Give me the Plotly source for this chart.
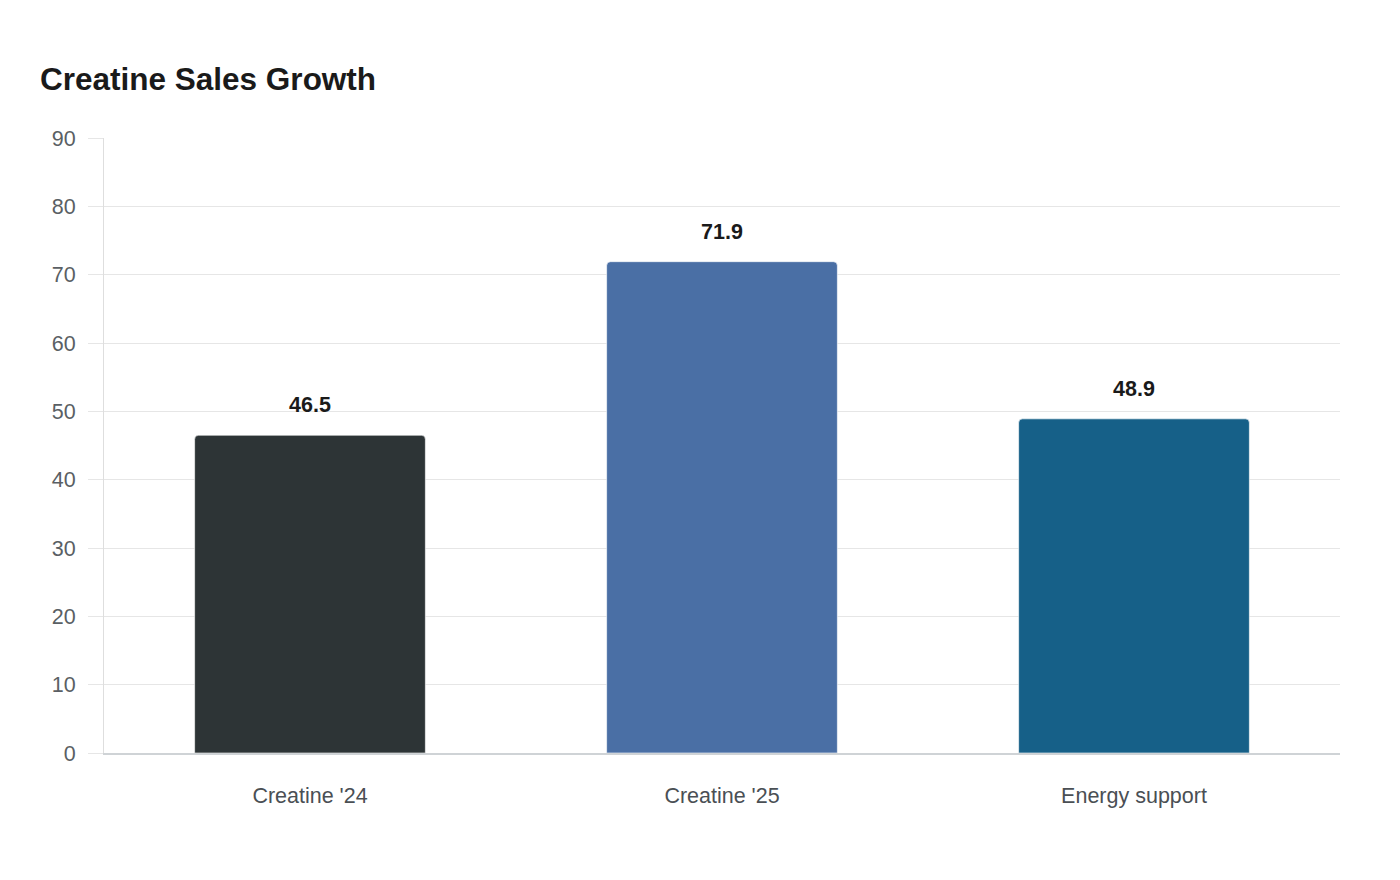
import plotly.graph_objects as go

categories = ["Creatine '24", "Creatine '25", "Energy support"]
sales = [46.5, 71.9, 48.9]
bar_colors = ["#2d3436", "#4a6fa5", "#166088"]
y_ticks = [0, 10, 20, 30, 40, 50, 60, 70, 80, 90]

fig = go.Figure()

fig.add_trace(
    go.Bar(
        x=categories,
        y=sales,
        marker=dict(color=bar_colors, line=dict(color="rgba(255,255,255,0.6)", width=1)),
        hoverinfo="x+y",
    )
)

# value labels sit a bit above each bar
for cat, val in zip(categories, sales):
    fig.add_annotation(
        x=cat,
        y=val,
        text=f"<b>{val}</b>",
        showarrow=False,
        yshift=30,
        font=dict(size=21.5, color="#1a1a1a", family="Liberation Sans, Arial, sans-serif"),
    )

fig.update_layout(
    width=1400,
    height=880,
    margin=dict(l=96, r=68, t=130, b=135),
    paper_bgcolor="white",
    plot_bgcolor="white",
    bargap=0.44,
    barcornerradius=4,
    showlegend=False,
    font=dict(family="Liberation Sans, Arial, sans-serif"),
    title=dict(
        text="<b>Creatine Sales Growth</b>",
        x=32 / 1400,
        xanchor="left",
        y=1 - 71 / 880,
        yanchor="middle",
        font=dict(size=31.5, color="#1a1a1a"),
    ),
)

fig.update_xaxes(
    showgrid=False,
    showline=True,
    linecolor="#cfd3d6",
    linewidth=2,
    ticks="",
    ticklabelstandoff=22,
    tickfont=dict(size=21.5, color="#4a4f54"),
)

fig.update_yaxes(
    range=[0, 90],
    tickvals=y_ticks,
    showgrid=True,
    gridcolor="#e6e6e6",
    gridwidth=1,
    zeroline=False,
    showline=True,
    linecolor="#dedede",
    linewidth=1,
    ticks="outside",
    ticklen=15,
    tickcolor="#e6e6e6",
    ticklabelstandoff=8,
    tickfont=dict(size=21.5, color="#5a5f64"),
)

fig.write_html("out.html")
